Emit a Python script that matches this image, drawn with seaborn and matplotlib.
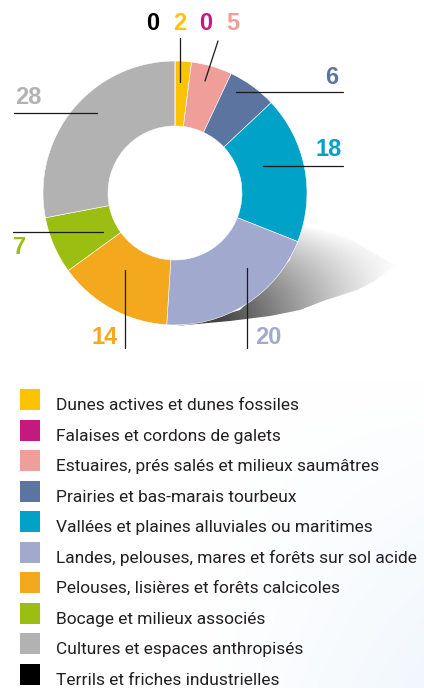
import numpy as np
import matplotlib
matplotlib.use("Agg")
import matplotlib.pyplot as plt
from matplotlib.patches import Rectangle, Polygon
import seaborn as sns

# ---- data ----
categories = [
    "Dunes actives et dunes fossiles",
    "Falaises et cordons de galets",
    "Estuaires, prés salés et milieux saumâtres",
    "Prairies et bas-marais tourbeux",
    "Vallées et plaines alluviales ou maritimes",
    "Landes, pelouses, mares et forêts sur sol acide",
    "Pelouses, lisières et forêts calcicoles",
    "Bocage et milieux associés",
    "Cultures et espaces anthropisés",
    "Terrils et friches industrielles",
]
values = [2, 0, 5, 6, 18, 20, 14, 7, 28, 0]
colors = ["#FDC200", "#C4197F", "#F09E9A", "#5C74A0", "#00A2C8",
          "#A1A9CF", "#F4A81E", "#9BBE12", "#B3B2B2", "#000000"]

sns.set_theme(style="white")
plt.rcParams['font.family'] = ['Roboto', 'DejaVu Sans']

W, H = 424, 688
fig = plt.figure(figsize=(W / 100, H / 100), dpi=100)
ax = fig.add_axes([0, 0, 1, 1])


def Y(p):
    return H - p


cx, cy, R, r_in = 175, 193, 132, 67

# donut
wedges, _ = ax.pie(values, colors=colors, startangle=90, counterclock=False,
                   center=(cx, Y(cy)), radius=R,
                   wedgeprops=dict(width=R - r_in, edgecolor="white", linewidth=0.4))
for w in wedges:
    w.set_zorder(2)

ax.set_xlim(0, W)
ax.set_ylim(0, H)
ax.set_aspect("auto")
ax.axis("off")

# subtle background tint bottom-right
yy, xx = np.mgrid[0:H, 0:W]
tint = np.clip((xx - 200) / 300, 0, 1) * np.clip((yy - 380) / 300, 0, 1)
bg = np.ones((H, W, 3))
bg[..., 0] -= 0.07 * tint
bg[..., 1] -= 0.04 * tint
bg[..., 2] -= 0.01 * tint
ax.imshow(bg, extent=(0, W, 0, H), origin="upper", zorder=0, aspect="auto")

# shadow (conical gradient around the donut centre, fading outward)
shadow_pts = [(175, 326), (230, 321), (270, 316), (300, 310), (323, 301),
              (357, 290), (373, 282), (395, 265), (370, 251), (345, 236),
              (320, 222), (302, 210), (290, 260), (240, 310), (190, 324)]
poly = Polygon([(x, Y(y)) for x, y in shadow_pts], closed=True,
               facecolor="none", edgecolor="none")
ax.add_patch(poly)
sy, sx = np.mgrid[195:335, 165:405].astype(float)
theta = np.degrees(np.arctan2(sx - cx, -(sy - cy))) % 360
e = np.clip(np.hypot(sx - cx, sy - cy) - R, 0, None)
A = np.clip((theta - 104) / 56, 0, 1) ** 0.8
B = np.clip(1 - (e / 105) ** 2, 0, 1)
gray = 1 - 0.73 * A * B
shade = np.dstack([gray] * 3)
im = ax.imshow(shade, extent=(165, 405, Y(335), Y(195)), origin="upper",
               zorder=1, aspect="auto", interpolation="bilinear")
im.set_clip_path(poly)

# value labels & leader lines
label_pos = [  # (value index, x, y, line)
    (0, 180, 23, [(180, 38), (180, 82)]),
    (1, 206, 23, None),
    (2, 233, 23, [(218, 41), (205, 81)]),
    (3, 332, 78, [(236, 92), (343, 92)]),
    (4, 329, 150, [(263, 166), (343, 166)]),
    (5, 268, 338, [(247, 268), (247, 348)]),
    (6, 105, 338, [(125, 270), (125, 348)]),
    (7, 20, 248, [(13, 232), (103, 232)]),
    (8, 28, 97, [(14, 113), (97, 113)]),
    (9, 153, 23, None),
]
for i, x, y, line in label_pos:
    ax.text(x, Y(y), str(values[i]), color=colors[i], fontsize=17,
            fontweight="bold", ha="center", va="center",
            family=["Liberation Sans", "DejaVu Sans"], zorder=4)
    if line:
        (x0, y0), (x1, y1) = line
        ax.plot([x0, x1], [Y(y0), Y(y1)], color="#1a1a1a", lw=0.9, zorder=3)

# legend
texts = []
for k, (lab, col) in enumerate(zip(categories, colors)):
    yc = 399.5 + k * 30.55
    ax.add_patch(Rectangle((20, Y(yc + 10.5)), 20, 21, facecolor=col,
                           edgecolor="none", zorder=3))
    t = ax.text(56, Y(yc + 10.5), lab, fontsize=14, color="#231F20", ha="left",
                va="baseline", zorder=4)
    texts.append(t)

# fit legend font so the longest line spans ~364 px as in the reference
renderer = fig.canvas.get_renderer()
maxw = max(t.get_window_extent(renderer).width for t in texts)
fs = 14 * 364 / maxw
for t in texts:
    t.set_fontsize(fs)

fig.savefig("out.png", dpi=100)
